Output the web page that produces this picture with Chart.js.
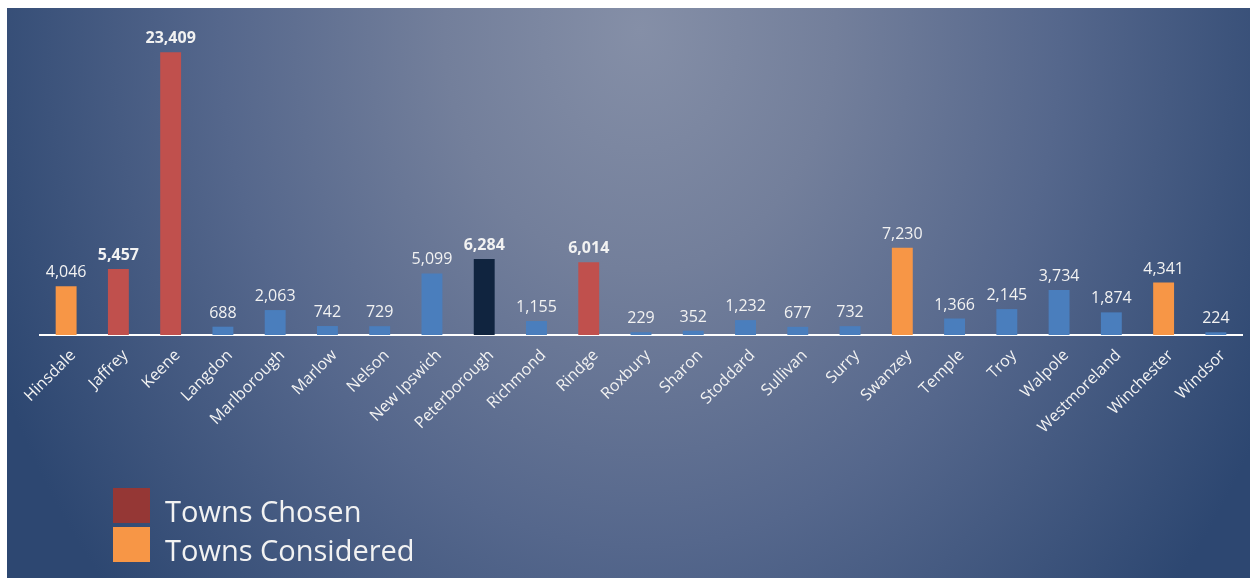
<!DOCTYPE html>
<html>
<head>
<meta charset="utf-8">
<script src="https://cdn.jsdelivr.net/npm/chart.js@4.4.0/dist/chart.umd.min.js"></script>
<style>
  html, body { margin: 0; padding: 0; background: #fff; }
  body { width: 1250px; height: 578px; position: relative; overflow: hidden; font-family: "Open Sans", sans-serif; }
  #panel {
    position: absolute; left: 7px; top: 8px; width: 1243px; height: 570px;
    background: radial-gradient(ellipse 700px 860px at 633px 22px, #858fa7 0%, #737f9b 28%, #55678c 60%, #2d4771 100%);
  }
  #chartBox { position: absolute; left: 0; top: 0; width: 1243px; height: 570px; }
  .swatch { position: absolute; left: 106px; width: 37px; height: 35px; }
  .legText { position: absolute; left: 158px; font-size: 29px; line-height: 29px; color: #f2f2f2; white-space: nowrap; }
</style>
</head>
<body>
<div id="panel">
  <div id="chartBox"><canvas id="chart" width="1243" height="570"></canvas></div>
  <div class="swatch" style="top:480px;background:#953735"></div>
  <div class="legText" style="top:488px">Towns Chosen</div>
  <div class="swatch" style="top:519px;background:#f79646"></div>
  <div class="legText" style="top:527px">Towns Considered</div>
</div>
<script>
// towns along the x axis
const towns = ['Hinsdale', 'Jaffrey', 'Keene', 'Langdon', 'Marlborough', 'Marlow', 'Nelson',
  'New Ipswich', 'Peterborough', 'Richmond', 'Rindge', 'Roxbury', 'Sharon', 'Stoddard',
  'Sullivan', 'Surry', 'Swanzey', 'Temple', 'Troy', 'Walpole', 'Westmoreland', 'Winchester', 'Windsor'];
// population of each town
const population = [4046, 5457, 23409, 688, 2063, 742, 729, 5099, 6284, 1155, 6014, 229, 352,
  1232, 677, 732, 7230, 1366, 2145, 3734, 1874, 4341, 224];
// chosen / considered / home / other
const status = ['considered', 'chosen', 'chosen', 'other', 'other', 'other', 'other', 'other',
  'home', 'other', 'chosen', 'other', 'other', 'other', 'other', 'other', 'considered',
  'other', 'other', 'other', 'other', 'considered', 'other'];

const statusColors = {
  chosen: '#c0504d',
  considered: '#f79646',
  home: '#10243f',
  other: '#4a7ebd',
};

// draws the value above every bar
const valueLabels = {
  id: 'valueLabels',
  afterDatasetsDraw(chart) {
    const ctx = chart.ctx;
    const meta = chart.getDatasetMeta(0);
    ctx.save();
    ctx.fillStyle = '#f2f2f2';
    ctx.textAlign = 'center';
    ctx.textBaseline = 'alphabetic';
    meta.data.forEach((bar, i) => {
      const bold = status[i] === 'chosen' || status[i] === 'home';
      ctx.font = (bold ? 'bold ' : '') + '16px "Open Sans"';
      ctx.fillText(population[i].toLocaleString('en-US'), bar.x, bar.y - 9);
    });
    ctx.restore();
  }
};

new Chart(document.getElementById('chart'), {
  type: 'bar',
  data: {
    labels: towns,
    datasets: [{
      data: population,
      backgroundColor: status.map(s => statusColors[s]),
      borderWidth: 0,
      barPercentage: 0.4,
      categoryPercentage: 1,
    }]
  },
  options: {
    responsive: false,
    animation: false,
    layout: { padding: { left: 33, right: 8, top: 13, bottom: 0 } },
    plugins: {
      legend: { display: false },
      tooltip: { enabled: false },
    },
    scales: {
      x: {
        grid: { display: false, drawTicks: false },
        border: { display: true, color: '#ffffff', width: 2 },
        ticks: {
          color: '#f2f2f2',
          font: { family: 'Open Sans', size: 16 },
          minRotation: 45,
          maxRotation: 45,
          autoSkip: false,
          padding: 11,
          labelOffset: 7,
        },
        afterFit: (scale) => { scale.height = 243; },
      },
      y: {
        display: false,
        min: 0,
        max: 26000,
      }
    }
  },
  plugins: [valueLabels]
});
</script>
</body>
</html>
